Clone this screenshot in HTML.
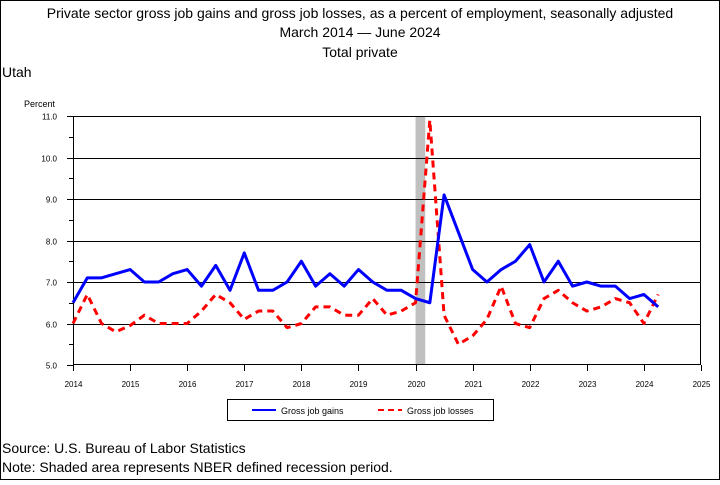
<!DOCTYPE html>
<html><head><meta charset="utf-8"><style>
body{margin:0;background:#fff;font-family:"Liberation Sans",sans-serif}
svg text{font-family:"Liberation Sans",sans-serif}
</style></head><body>
<svg width="720" height="480" viewBox="0 0 720 480">
<rect x="0.5" y="0.5" width="719" height="479" fill="#fff" stroke="#000"/>
<text x="360" y="18" font-size="14" text-anchor="middle">Private sector gross job gains and gross job losses, as a percent of employment, seasonally adjusted</text>
<text x="360" y="37" font-size="14" text-anchor="middle">March 2014 — June 2024</text>
<text x="360" y="57" font-size="14" text-anchor="middle">Total private</text>
<text x="2" y="77" font-size="14">Utah</text>
<text x="24" y="107" font-size="9">Percent</text>
<g id="plot"></g>
<g>
<rect x="227.5" y="399.5" width="266" height="21" fill="none" stroke="#000"/>
<line x1="252" y1="410" x2="276" y2="410" stroke="#0000ff" stroke-width="2"/>
<text x="281" y="414" font-size="9">Gross job gains</text>
<line x1="378" y1="410" x2="402" y2="410" stroke="#ff0000" stroke-width="2" stroke-dasharray="6,4"/>
<text x="407" y="414" font-size="9">Gross job losses</text>
</g>
<text x="2" y="453" font-size="14">Source: U.S. Bureau of Labor Statistics</text>
<text x="2" y="472" font-size="14">Note: Shaded area represents NBER defined recession period.</text>
</svg>
<script>
const gains=[6.5,7.1,7.1,7.2, 7.3,7.0,7.0,7.2, 7.3,6.9,7.4,6.8, 7.7,6.8,6.8,7.0, 7.5,6.9,7.2,6.9, 7.3,7.0,6.8,6.8, 6.6,6.5,9.1,8.2, 7.3,7.0,7.3,7.5, 7.9,7.0,7.5,6.9, 7.0,6.9,6.9,6.6, 6.7,6.4];
const losses=[6.0,6.7,6.0,5.8, 5.95,6.2,6.0,6.0, 6.0,6.3,6.7,6.5, 6.1,6.3,6.3,5.9, 6.0,6.4,6.4,6.2, 6.2,6.6,6.2,6.3, 6.5,10.9,6.2,5.5, 5.7,6.1,6.9,6.0, 5.9,6.6,6.8,6.5, 6.3,6.4,6.6,6.5, 6.0,6.7];
const yTicks=["5.0","6.0","7.0","8.0","9.0","10.0","11.0"];
const xTicks=["2014","2015","2016","2017","2018","2019","2020","2021","2022","2023","2024","2025"];
const recession=[2020.0,2020.17];
const L=73,R=701,T=116,B=365;
const x=v=>L+(v-2014)/11*(R-L);
const y=v=>B-(v-5)/6*(B-T);
const ns="http://www.w3.org/2000/svg";
const g=document.getElementById('plot');
function mk(t,a){const e=document.createElementNS(ns,t);for(const k in a)e.setAttribute(k,a[k]);g.appendChild(e);return e;}
const rb=mk('rect',{x:x(recession[0]),y:T,width:x(recession[1])-x(recession[0]),height:B-T,fill:'#c0c0c0'});


yTicks.forEach((t,i)=>{const v=parseFloat(t);const yy=Math.round(y(v))+0.5;
 if(i>0&&i<yTicks.length-1){const gl=mk('line',{x1:L,x2:R,y1:yy,y2:yy,stroke:'#000','stroke-width':1});}
 mk('line',{x1:L-6,x2:L,y1:yy,y2:yy,stroke:'#000'});
 const m=Math.round(y(v+0.5))+0.5; if(i<yTicks.length-1) mk('line',{x1:L-4,x2:L,y1:m,y2:m,stroke:'#000'});
 const tx=mk('text',{x:L-16,y:yy+3,'font-size':8,'text-anchor':'end'});tx.textContent=t;
 });
xTicks.forEach(t=>{const xx=Math.round(x(+t))+0.5;
 mk('line',{x1:xx,x2:xx,y1:B,y2:B+6,stroke:'#000'});
 const tx=mk('text',{x:xx,y:B+22,'font-size':8,'text-anchor':'middle'});tx.textContent=t;
 });
const fr=mk('rect',{x:L+0.5,y:T+0.5,width:R-L-1,height:B-T-1,fill:'none',stroke:'#000'});

function line(d,c,dash,name){const p=mk('polyline',{points:d.map((v,i)=>x(2014+i/4)+','+y(v)).join(' '),fill:'none',stroke:c,'stroke-width':3,'stroke-linejoin':'round'});
 if(dash)p.setAttribute('stroke-dasharray',dash);
 }
line(losses,'#ff0000','7,5','losses-line');
line(gains,'#0000ff',null,'gains-line');
</script>
</body></html>
